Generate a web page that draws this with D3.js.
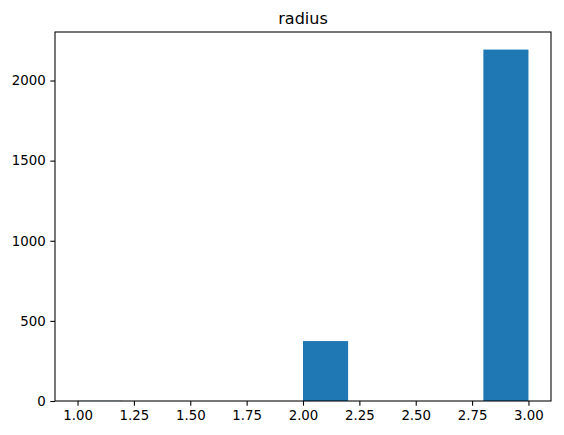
<html>
  <meta charset="utf-8" />
  <script src="https://d3js.org/d3.v7.min.js"></script>
  <style>
    body { margin: 0; background: #fff; }
    text { font-family: "DejaVu Sans", sans-serif; }
  </style>
  <body>
    <svg width="564" height="435" id="chart"></svg>
    <script>
      const binEdges = [1.0, 1.2, 1.4, 1.6, 1.8, 2.0, 2.2, 2.4, 2.6, 2.8, 3.0];
      const counts = [1, 0, 0, 0, 0, 374, 0, 0, 0, 2193];
      const xTicks = [1.0, 1.25, 1.5, 1.75, 2.0, 2.25, 2.5, 2.75, 3.0];
      const yTicks = [0, 500, 1000, 1500, 2000];

      const plotLeft = 55, plotRight = 551, plotTop = 32, plotBottom = 401;

      const svg = d3.select("#chart");

      const x = d3.scaleLinear().domain([0.9, 3.1]).range([plotLeft, plotRight]);
      const yMax = d3.max(counts) * 1.05;
      const y = d3.scaleLinear().domain([0, yMax]).range([plotBottom, plotTop]);

      const bins = counts.map((c, i) => ({ x0: binEdges[i], x1: binEdges[i + 1], n: c }));

      svg.append("g")
        .selectAll("rect")
        .data(bins.filter((d) => d.n > 0))
        .enter()
        .append("rect")
        .attr("x", (d) => x(d.x0))
        .attr("width", (d) => x(d.x1) - x(d.x0))
        .attr("y", (d) => y(d.n))
        .attr("height", (d) => y(0) - y(d.n))
        .attr("fill", "#1f77b4");

      const xAxis = svg.append("g")
        .attr("transform", `translate(0,${plotBottom})`)
        .call(d3.axisBottom(x).tickValues(xTicks).tickFormat(d3.format(".2f"))
          .tickSize(4.67).tickPadding(4.67).tickSizeOuter(0));

      const yAxis = svg.append("g")
        .attr("transform", `translate(${plotLeft},0)`)
        .call(d3.axisLeft(y).tickValues(yTicks).tickFormat(d3.format("d"))
          .tickSize(4.67).tickPadding(4.67).tickSizeOuter(0));

      [xAxis, yAxis].forEach((g) => {
        g.select(".domain").remove();
        g.selectAll(".tick line").attr("stroke", "#000").attr("stroke-width", 1.07);
        g.selectAll(".tick text").attr("fill", "#000").style("font-size", "13.33px")
          .style("font-family", "'DejaVu Sans', sans-serif");
      });

      // frame
      svg.append("rect")
        .attr("x", plotLeft)
        .attr("y", plotTop)
        .attr("width", plotRight - plotLeft)
        .attr("height", plotBottom - plotTop)
        .attr("fill", "none")
        .attr("stroke", "#000")
        .attr("stroke-width", 1.07);

      svg.append("text")
        .attr("x", (plotLeft + plotRight) / 2)
        .attr("y", plotTop - 8)
        .attr("text-anchor", "middle")
        .style("font-size", "16px")
        .text("radius");
    </script>
  </body>
</html>
